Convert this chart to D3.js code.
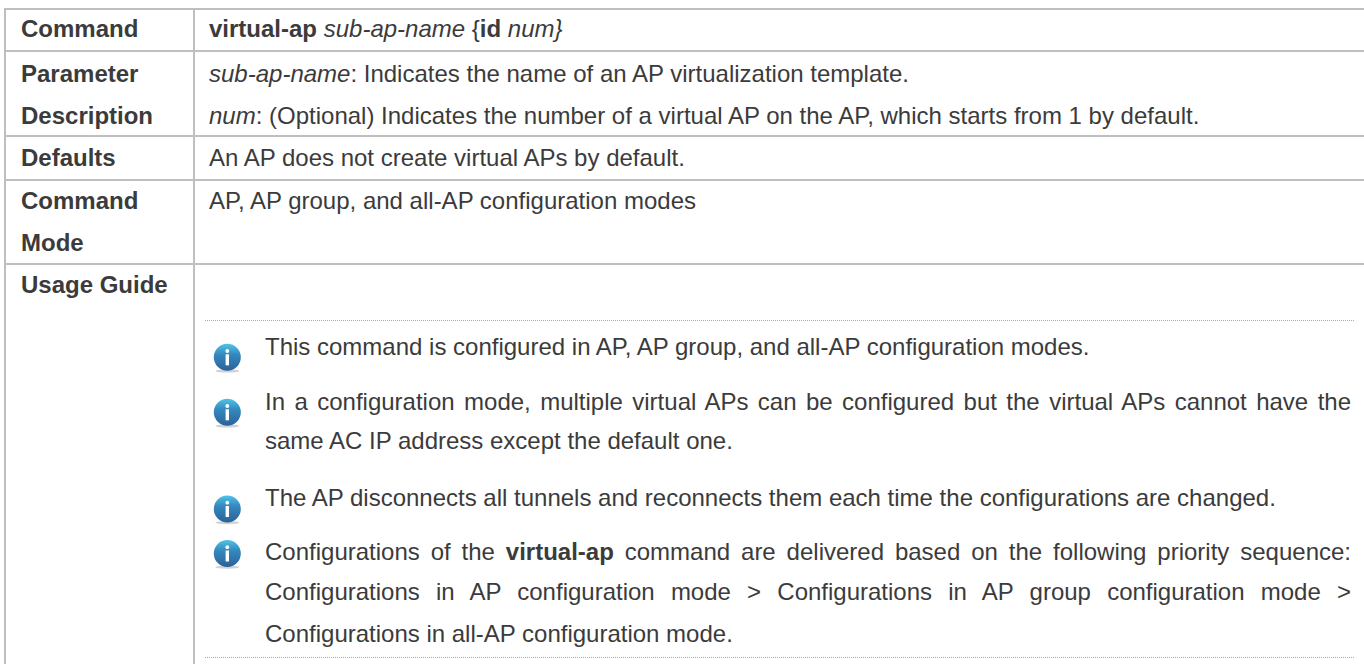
<!DOCTYPE html>
<html>
<head>
<meta charset="utf-8">
<script src="https://cdn.jsdelivr.net/npm/d3@7"></script>
<style>
html,body{margin:0;padding:0;background:#fff;overflow:hidden}
svg{display:block}
text{font-family:"Liberation Sans",Arial,sans-serif;font-size:24px;fill:#3b3b3b}
</style>
</head>
<body>
<div id="chart"></div>
<script>
// row headings, one entry per row, split in lines
const rowLabels=[["Command"],["Parameter","Description"],["Defaults"],["Command","Mode"],["Usage Guide"]]

// right column, b = bold, i = italic, n = normal
const commandLine=[["virtual-ap","b"],[" ","n"],["sub-ap-name","i"],[" {","n"],["id","b"],[" ","n"],["num}","i"]]
const paramLines=[
  [["sub-ap-name","i"],[": Indicates the name of an AP virtualization template.","n"]],
  [["num","i"],[": (Optional) Indicates the number of a virtual AP on the AP, which starts from 1 by default.","n"]]
]
const defaultsLine=[["An AP does not create virtual APs by default.","n"]]
const modeLine=[["AP, AP group, and all-AP configuration modes","n"]]

// notes: lines flagged true are justified to the full column width
const notes=[
  [{runs:[["This command is configured in AP, AP group, and all-AP configuration modes.","n"]],just:false}],
  [{runs:[["In a configuration mode, multiple virtual APs can be configured but the virtual APs cannot have the","n"]],just:true},
   {runs:[["same AC IP address except the default one.","n"]],just:false}],
  [{runs:[["The AP disconnects all tunnels and reconnects them each time the configurations are changed.","n"]],just:false}],
  [{runs:[["Configurations of the ","n"],["virtual-ap","b"],[" command are delivered based on the following priority sequence:","n"]],just:true},
   {runs:[["Configurations in AP configuration mode > Configurations in AP group configuration mode >","n"]],just:true},
   {runs:[["Configurations in all-AP configuration mode.","n"]],just:false}]
]

const width=1364
const height=664

const svg=d3.select("#chart")
.append("svg")
.attr("width",width)
.attr("height",height)

// layout
const ruleColor="#bfbfbf"
const rowEdges=[9,51,136,180,264]
const colEdges=[5,194]
const labelX=21
const textX=209
const noteX=265
const noteRight=1351
const labelBase=[[36.5],[82,124],[166],[208.5,250.5],[293]]
const contentBase=[36.5,82,124,166,208.5]
const noteBase=[[355],[410,448.5],[506],[560,600,642]]
const iconY=[357.3,412.3,509,553.5]
const dotted=[320,657]

// gradient for the info icons
const defs=svg.append("defs")
const grad=defs.append("linearGradient").attr("id","info").attr("x1",0).attr("y1",0).attr("x2",0).attr("y2",1)
grad.append("stop").attr("offset","0%").attr("stop-color","#4fc3ea")
grad.append("stop").attr("offset","40%").attr("stop-color","#3488bd")
grad.append("stop").attr("offset","100%").attr("stop-color","#2a6299")

// table rules
svg.selectAll("line.row")
.data(rowEdges)
.join("line")
.attr("class","row")
.attr("x1",4).attr("x2",width)
.attr("y1",d=>d).attr("y2",d=>d)
.attr("stroke",ruleColor).attr("stroke-width",2)

svg.selectAll("line.col")
.data(colEdges)
.join("line")
.attr("class","col")
.attr("x1",d=>d).attr("x2",d=>d)
.attr("y1",8).attr("y2",height)
.attr("stroke",ruleColor).attr("stroke-width",2)

// dotted rules round the notes
svg.selectAll("line.dot")
.data(dotted)
.join("line")
.attr("class","dot")
.attr("x1",205).attr("x2",1354)
.attr("y1",d=>d+0.5).attr("y2",d=>d+0.5)
.attr("stroke","#a8a8a8").attr("stroke-dasharray","1 1")

function addRuns(sel,runs){
  runs.forEach(r=>{
    sel.append("tspan")
    .attr("font-weight",r[1]=="b"?"bold":"normal")
    .attr("font-style",r[1]=="i"?"italic":"normal")
    .text(r[0])
  })
}

// row headings
rowLabels.forEach((lines,i)=>{
  lines.forEach((l,j)=>{
    svg.append("text")
    .attr("x",labelX).attr("y",labelBase[i][j])
    .attr("font-weight","bold")
    .text(l)
  })
})

// right column
const content=[commandLine,paramLines[0],paramLines[1],defaultsLine,modeLine]
content.forEach((runs,i)=>{
  const t=svg.append("text").attr("x",textX).attr("y",contentBase[i]).style("white-space","pre")
  addRuns(t,runs)
})

// notes with icons
notes.forEach((note,i)=>{
  const g=svg.append("g").attr("transform",`translate(227.3,${iconY[i]})`)
  g.append("ellipse").attr("cx",0).attr("cy",13.7).attr("rx",12).attr("ry",1.6).attr("fill","#d2d2d2")
  g.append("circle").attr("r",13.5).attr("fill","url(#info)")
  g.append("circle").attr("cy",-6.3).attr("r",1.9).attr("fill","#fff")
  g.append("rect").attr("x",-1.7).attr("y",-3).attr("width",3.4).attr("height",11).attr("fill","#fff")

  note.forEach((line,j)=>{
    const t=svg.append("text").attr("x",noteX).attr("y",noteBase[i][j]).style("white-space","pre")
    addRuns(t,line.runs)
    if(line.just){
      // stretch the word gaps so the line ends on the right margin
      const gaps=line.runs.map(r=>r[0]).join("").split(" ").length-1
      const extra=(noteRight-noteX-t.node().getComputedTextLength())/gaps
      t.attr("word-spacing",extra)
    }
  })
})
</script>
</body>
</html>
